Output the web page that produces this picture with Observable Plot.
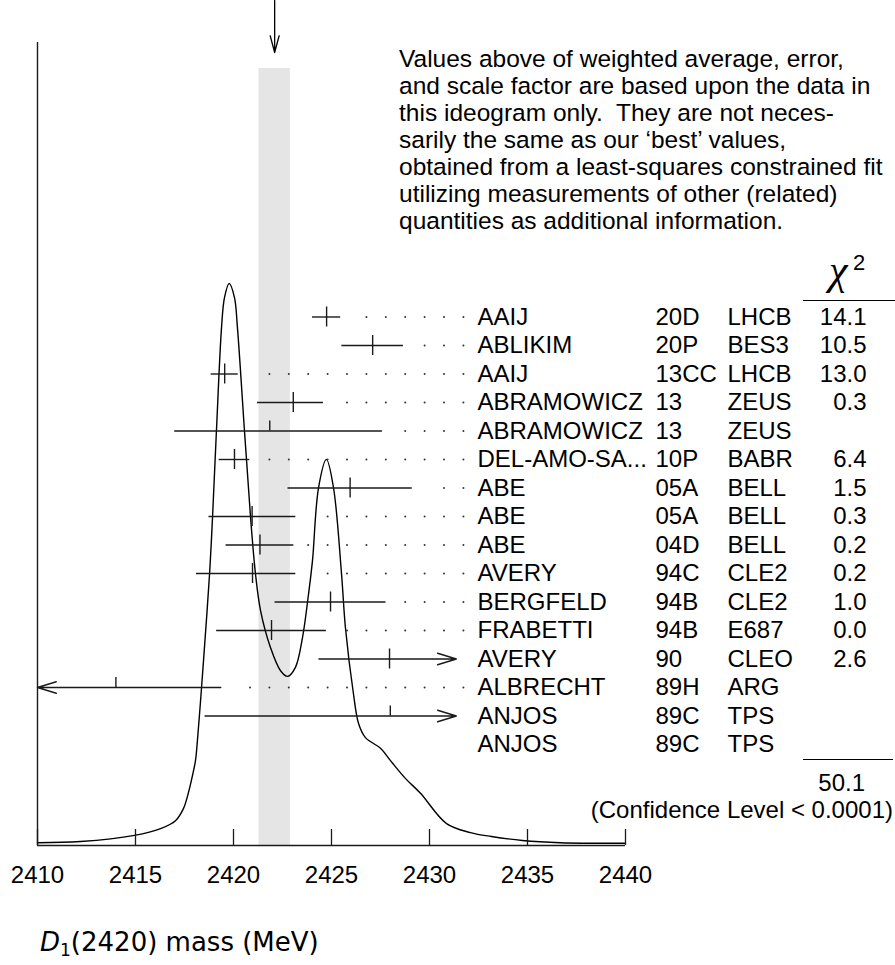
<!DOCTYPE html>
<html><head><meta charset="utf-8">
<script src="https://cdn.jsdelivr.net/npm/d3@7"></script>
<script src="https://cdn.jsdelivr.net/npm/@observablehq/plot@0.6"></script>
<style>
body{margin:0;background:#fff;}
#wrap{position:relative;width:895px;height:965px;font-family:"Liberation Sans",Arial,sans-serif;color:#000;}
#wrap svg{position:absolute;left:0;top:0;}
.abs{position:absolute;white-space:pre;}
</style></head><body>
<div id="wrap"></div>
<script>
// ---- data ----
const names = ["AAIJ","ABLIKIM","AAIJ","ABRAMOWICZ","ABRAMOWICZ","DEL-AMO-SA...","ABE","ABE","ABE","AVERY","BERGFELD","FRABETTI","AVERY","ALBRECHT","ANJOS","ANJOS"];
const years = ["20D","20P","13CC","13","13","10P","05A","05A","04D","94C","94B","94B","90","89H","89C","89C"];
const experiments = ["LHCB","BES3","LHCB","ZEUS","ZEUS","BABR","BELL","BELL","BELL","CLE2","CLE2","E687","CLEO","ARG","TPS","TPS"];
const chi2 = [14.1,10.5,13.0,0.3,null,6.4,1.5,0.3,0.2,0.2,1.0,0.0,2.6,null,null,null];
const values = [2424.75,2427.1,2419.55,2423.05,2421.85,2420.05,2425.95,2420.95,2421.35,2420.97,2424.95,2421.94,2427.96,2414.0,2428.0,null];
const errLow = [0.72,1.57,0.69,1.83,4.85,0.78,3.17,2.2,1.73,2.86,2.83,2.8,3.6,5.35,9.45,null];
const errHigh = [0.72,1.57,0.69,1.54,5.75,0.78,3.17,2.23,1.73,2.21,2.83,2.8,3.6,5.35,9.45,null];
const avgValue = 2422.1, avgError = 0.8;
const chi2Total = 50.1;
const confidenceText = "(Confidence Level < 0.0001)";
const tickLabels = [2410,2415,2420,2425,2430,2435,2440];
// ideogram curve (relative height, highest peak = 1)
const curveMass = [2410.0,2412.19,2414.95,2416.28,2417.04,2417.45,2417.70,2417.91,2418.06,2418.16,2418.32,2418.47,2418.78,2418.93,2419.13,2419.39,2419.54,2419.78,2420.05,2420.20,2420.56,2420.87,2421.12,2421.38,2421.89,2422.40,2422.76,2423.16,2423.52,2423.83,2424.03,2424.34,2424.74,2425.10,2425.51,2425.71,2426.12,2426.38,2426.73,2427.50,2428.01,2428.78,2429.54,2430.87,2432.09,2433.16,2434.74,2436.68,2440.0];
const curveHeight = [0.005,0.007,0.018,0.030,0.044,0.066,0.094,0.125,0.151,0.187,0.258,0.329,0.484,0.584,0.738,0.922,0.975,1.0,0.975,0.922,0.738,0.584,0.484,0.418,0.352,0.311,0.301,0.317,0.370,0.448,0.507,0.637,0.687,0.637,0.484,0.388,0.270,0.217,0.192,0.173,0.151,0.119,0.093,0.039,0.023,0.016,0.009,0.005,0.004];

// ---- layout ----
const W = 895, H = 965, mL = 37, mR = 270, axisPx = 845, peakPx = 283;
const xDomain = [2410, 2440];
const clipMin = 2410, clipMax = 2431.37;
const rowTop = 316.5, rowStep = 28.5;
const tickHalf = 10 / rowStep;
const dotStart = 2431.73, dotStep = 0.9898, dotGap = 0.68;
const ink = "#1a1a1a";
const font = "Liberation Sans, Arial, sans-serif";
const fs = "24px";

const rows = names.map((name, i) => ({
  i, name, year: years[i], exp: experiments[i], chi2: chi2[i], value: values[i],
  lo: values[i] == null ? null : values[i] - errLow[i],
  hi: values[i] == null ? null : values[i] + errHigh[i]
}));
const bars = rows.filter(d => d.value != null);
const inside = bars.filter(d => d.lo >= clipMin && d.hi <= clipMax);
const rightClip = bars.filter(d => d.hi > clipMax);
const leftClip = bars.filter(d => d.lo < clipMin);
const dots = bars.filter(d => d.hi <= clipMax).flatMap(d =>
  d3.range(0, 30).map(k => dotStart - k * dotStep)
    .filter(x => x > d.hi + dotGap && x > clipMin)
    .map(x => ({x, i: d.i})));
const curve = curveMass.map((m, k) => ({m, h: curveHeight[k]}));

const unit = axisPx - peakPx;
const yTop = axisPx / unit;
const pxToY = px => (axisPx - px) / unit;

const wrap = document.getElementById("wrap");

const curvePlot = Plot.plot({
  width: W, height: H, marginLeft: mL, marginRight: mR, marginTop: 0, marginBottom: H - axisPx,
  style: {fontFamily: font, fontSize: fs, color: "#000", background: "transparent", overflow: "visible"},
  x: {domain: xDomain},
  y: {domain: [0, yTop], axis: null},
  marks: [
    Plot.rect([{v: avgValue, e: avgError}], {x1: d => d.v - d.e, x2: d => d.v + d.e, y1: 0, y2: pxToY(68), fill: "#e5e5e5"}),
    Plot.line(curve, {x: "m", y: "h", curve: "catmull-rom", stroke: "#000", strokeWidth: 1.4}),
    Plot.ruleY([0], {stroke: ink, strokeWidth: 1.4}),
    Plot.ruleX([xDomain[0]], {y1: 0, y2: pxToY(42), stroke: ink, strokeWidth: 1.4}),
    Plot.ruleX(tickLabels, {x: d => d, y1: 0, y2: 16 / unit, stroke: ink, strokeWidth: 1.3}),
    Plot.axisX({ticks: tickLabels, tickSize: 0, tickPadding: 20, tickFormat: d => String(d), label: null, fill: "#000"}),
    Plot.arrow([avgValue], {x1: d => d, x2: d => d, y1: yTop, y2: pxToY(52), headLength: 24, headAngle: 30, stroke: "#000", strokeWidth: 1.3})
  ]
});
wrap.appendChild(curvePlot);

const n = names.length;
const rowPlot = Plot.plot({
  width: W, height: H, marginLeft: mL, marginRight: mR, marginTop: 0, marginBottom: 0,
  style: {fontFamily: font, fontSize: fs, color: "#000", background: "transparent", overflow: "visible"},
  x: {domain: xDomain, axis: null},
  y: {domain: [0, n - 1], range: [rowTop, rowTop + rowStep * (n - 1)], axis: null},
  marks: [
    Plot.ruleY(inside, {y: "i", x1: "lo", x2: "hi", stroke: ink, strokeWidth: 1.4}),
    Plot.arrow(rightClip, {x1: d => Math.max(d.lo, clipMin), x2: () => clipMax, y1: "i", y2: "i", headLength: 21, headAngle: 34, stroke: ink, strokeWidth: 1.4}),
    Plot.arrow(leftClip, {x1: d => Math.min(d.hi, clipMax), x2: () => clipMin, y1: "i", y2: "i", headLength: 21, headAngle: 34, stroke: ink, strokeWidth: 1.4}),
    Plot.ruleX(bars, {x: "value", y1: d => d.i - tickHalf, y2: d => d.chi2 != null ? d.i + tickHalf : d.i, stroke: ink, strokeWidth: 1.4}),
    Plot.dot(dots, {x: "x", y: "i", r: 1, fill: "#333", stroke: null}),
    Plot.text(rows, {y: "i", text: "name", frameAnchor: "left", dx: 440, textAnchor: "start", fill: "#000"}),
    Plot.text(rows, {y: "i", text: "year", frameAnchor: "left", dx: 618, textAnchor: "start", fill: "#000"}),
    Plot.text(rows, {y: "i", text: "exp", frameAnchor: "left", dx: 690, textAnchor: "start", fill: "#000"}),
    Plot.text(rows.filter(d => d.chi2 != null), {y: "i", text: d => d.chi2.toFixed(1), frameAnchor: "left", dx: 829, textAnchor: "end", fill: "#000"})
  ]
});
wrap.appendChild(rowPlot);

function addDiv(html, style) {
  const el = document.createElement("div");
  el.className = "abs";
  el.innerHTML = html;
  Object.assign(el.style, style);
  wrap.appendChild(el);
  return el;
}
const note = ["Values above of weighted average, error,",
  "and scale factor are based upon the data in",
  "this ideogram only.  They are not neces-",
  "sarily the same as our \u2018best\u2019 values,",
  "obtained from a least-squares constrained fit",
  "utilizing measurements of other (related)",
  "quantities as additional information."].join("\n");
addDiv(note, {left: "399px", top: "44.5px", fontSize: "24.5px", lineHeight: "27px"});
addDiv("\u03C7", {left: "829px", top: "249px", fontSize: "42px", lineHeight: "42px", fontFamily: "Liberation Serif, serif", fontStyle: "italic"});
addDiv("2", {left: "853px", top: "252px", fontSize: "22px", lineHeight: "22px"});
addDiv("", {left: "803px", top: "300px", width: "92px", height: "0", borderTop: "1.4px solid #000"});
addDiv("", {left: "803px", top: "759px", width: "90px", height: "0", borderTop: "1.4px solid #000"});
addDiv(chi2Total.toFixed(1), {right: "30px", top: "771px", fontSize: fs, lineHeight: "24px"});
addDiv(confidenceText, {right: "2px", top: "798px", fontSize: fs, lineHeight: "24px"});
addDiv("<i>D</i><sub style=\"font-size:17px;line-height:0;vertical-align:-5px\">1</sub>(2420) mass (MeV)", {left: "40px", top: "927px", fontSize: "26px", lineHeight: "30px", fontFamily: "DejaVu Sans, sans-serif"});
</script>
</body></html>
